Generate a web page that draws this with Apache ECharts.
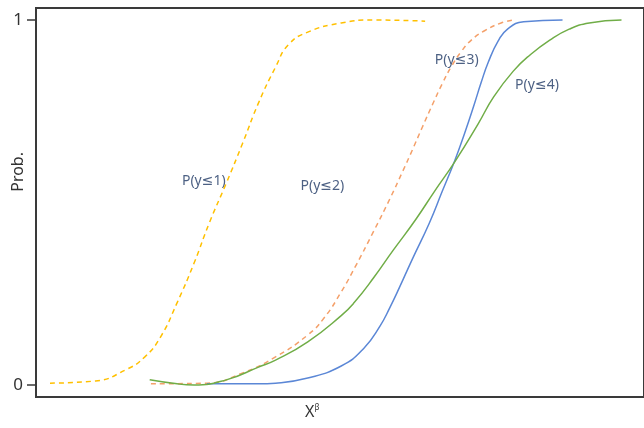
<!DOCTYPE html>
<html>
<head>
<meta charset="utf-8">
<script src="https://cdn.jsdelivr.net/npm/echarts@6/dist/echarts.min.js"></script>
<style>
  html, body { margin: 0; padding: 0; background: #fff; }
  #main { width: 644px; height: 428px; }
</style>
</head>
<body>
<div id="main"></div>
<script>
// curves, [x, prob]
const pY1 = [[2.3, 0.005], [9.8, 0.011], [14.7, 0.041], [17.9, 0.077], [20.5, 0.132], [23.2, 0.225],
  [26.0, 0.334], [28.5, 0.444], [31.3, 0.553], [34.0, 0.663], [36.6, 0.773], [39.4, 0.871],
  [41.5, 0.932], [44.7, 0.967], [50.2, 0.992], [55.5, 1.0], [64.0, 0.997]]
const pY2 = [[18.9, 0.003], [28.1, 0.005], [34.0, 0.033], [39.4, 0.077], [44.7, 0.137], [47.4, 0.184],
  [50.2, 0.255], [52.7, 0.33], [55.5, 0.42], [58.2, 0.51], [60.3, 0.585], [61.9, 0.644],
  [63.5, 0.705], [65.2, 0.768], [66.8, 0.825], [68.4, 0.875], [70.0, 0.915], [71.6, 0.945],
  [73.7, 0.97], [76.5, 0.992], [78.5, 1.0]]
const pY3 = [[28.1, 0.003], [36.6, 0.003], [39.4, 0.005], [44.7, 0.019], [50.2, 0.052], [53.9, 0.1],
  [56.6, 0.162], [58.2, 0.212], [59.8, 0.268], [61.9, 0.345], [64.7, 0.444], [66.8, 0.53],
  [68.9, 0.616], [70.5, 0.69], [72.1, 0.77], [73.2, 0.828], [74.4, 0.885], [76.0, 0.942],
  [77.6, 0.976], [80.2, 0.995], [86.6, 1.0]]
const pY4 = [[18.7, 0.014], [23.2, 0.003], [26.0, 0.0], [31.3, 0.014], [36.6, 0.049], [39.4, 0.068],
  [44.7, 0.118], [50.2, 0.19], [52.3, 0.225], [55.5, 0.293], [58.7, 0.368], [62.4, 0.452],
  [65.6, 0.532], [68.9, 0.612], [72.7, 0.715], [75.3, 0.79], [78.5, 0.86], [81.3, 0.905],
  [84.5, 0.945], [87.7, 0.975], [91.0, 0.992], [96.3, 1.0]]
const yTicks = [0, 1]
const curveLabels = [
  { text: 'P(y≤1)', coord: [27.6, 0.559] },
  { text: 'P(y≤2)', coord: [47.1, 0.545] },
  { text: 'P(y≤3)', coord: [69.2, 0.89] },
  { text: 'P(y≤4)', coord: [82.4, 0.822] },
]

const font = '"Noto Sans", "DejaVu Sans", sans-serif'

const makeLine = (name, data, color, dashed) => ({
  name: name,
  type: 'line',
  data: data,
  smooth: 0.5,
  showSymbol: false,
  lineStyle: { color: color, width: 1.5, type: dashed ? [5, 4] : 'solid' },
})

let option = {
  animation: false,
  backgroundColor: '#fff',
  grid: { left: 36, right: -12, top: 8, bottom: 31, show: true, borderColor: '#3a3a3a', borderWidth: 2 },
  xAxis: {
    type: 'value',
    min: 0,
    max: 100,
    axisLine: { show: true, onZero: false, lineStyle: { color: '#3a3a3a', width: 2 } },
    axisTick: { show: false },
    axisLabel: { show: false },
    splitLine: { show: false },
  },
  yAxis: {
    type: 'value',
    min: -0.033,
    max: 1.033,
    axisLine: { show: true, lineStyle: { color: '#3a3a3a', width: 2 } },
    axisTick: { show: true, length: 9, customValues: yTicks, lineStyle: { color: '#3a3a3a', width: 1.5 } },
    axisLabel: { customValues: yTicks, fontSize: 17, color: '#333', margin: 13, fontFamily: font },
    splitLine: { show: false },
  },
  graphic: [
    {
      type: 'text',
      left: 10,
      top: 152,
      rotation: Math.PI / 2,
      style: { text: 'Prob.', font: '16px ' + font, fill: '#333' },
    },
    {
      type: 'text',
      left: 305,
      top: 404,
      style: {
        text: 'X{s|β}',
        rich: {
          s: { fontSize: 8, verticalAlign: 'top', padding: [0, 0, 8, 0], fill: '#333', fontFamily: font },
        },
        fontSize: 16,
        fontFamily: font,
        fill: '#333',
      },
    },
  ],
  series: [
    makeLine('P(y≤1)', pY1, '#FFC000', true),
    makeLine('P(y≤2)', pY2, '#F4A06A', true),
    makeLine('P(y≤3)', pY3, '#5B87D6', false),
    makeLine('P(y≤4)', pY4, '#70AD47', false),
    {
      type: 'scatter',
      data: curveLabels.map((l) => ({ value: l.coord, name: l.text })),
      symbolSize: 0,
      label: {
        show: true,
        position: 'inside',
        formatter: (p) => p.name,
        fontSize: 14,
        color: '#1F3864',
        fontFamily: font,
      },
    },
  ],
}

const myChart = echarts.init(document.getElementById('main'))
myChart.setOption(option)
</script>
</body>
</html>
